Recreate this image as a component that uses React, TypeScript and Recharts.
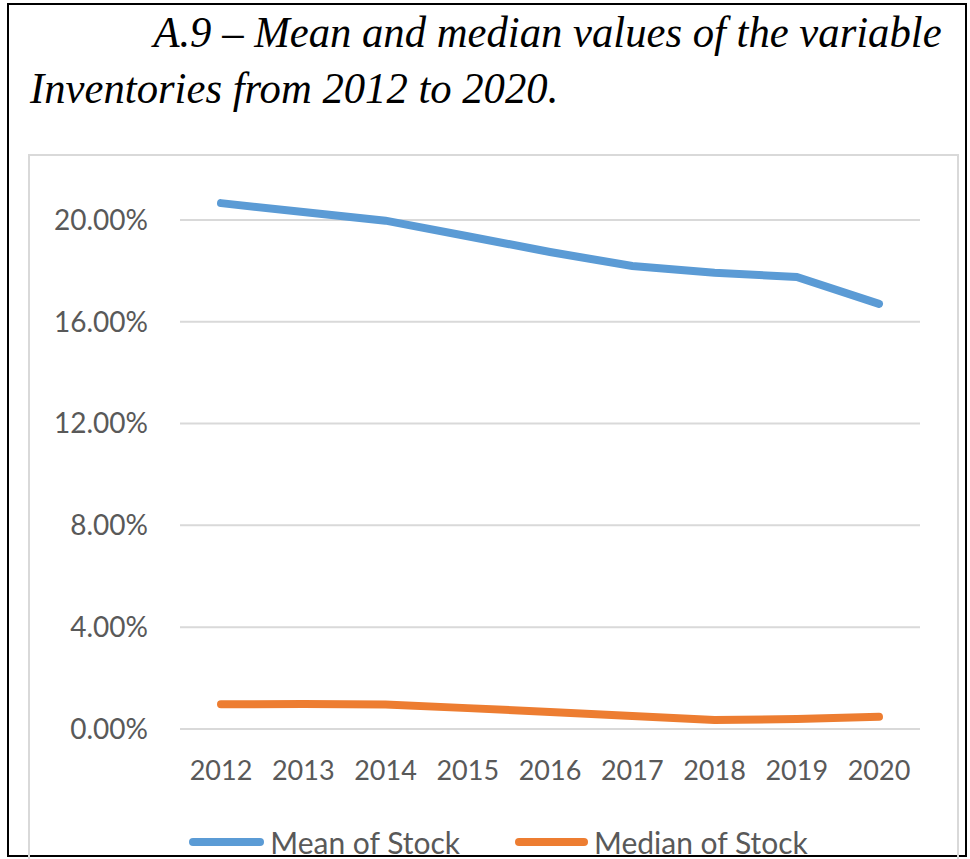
import React from "react";
import {
  LineChart,
  Line,
  XAxis,
  YAxis,
  CartesianGrid,
  Legend,
} from "recharts";

const years = ["2012", "2013", "2014", "2015", "2016", "2017", "2018", "2019", "2020"];
const meanOfStock = [0.2066, 0.2031, 0.1997, 0.1936, 0.1874, 0.1819, 0.1792, 0.1776, 0.167];
const medianOfStock = [0.0097, 0.0098, 0.0096, 0.0082, 0.0067, 0.0051, 0.0035, 0.0039, 0.0048];
const yTicks = [0, 0.04, 0.08, 0.12, 0.16, 0.2];

const data = years.map((year, i) => ({
  year,
  mean: meanOfStock[i],
  median: medianOfStock[i],
}));

const BLUE = "#5B9BD5";
const ORANGE = "#ED7D31";
const TEXT = "#595959";

const LegendContent = () => (
  <div
    style={{
      height: 40,
      paddingLeft: 48,
      display: "flex",
      alignItems: "center",
      justifyContent: "center",
      fontFamily: "Lato",
      fontSize: 30,
      color: TEXT,
    }}
  >
    <span style={{ display: "flex", alignItems: "center", marginRight: 55 }}>
      <span style={{ width: 75, height: 8, borderRadius: 4, background: BLUE, marginRight: 6 }} />
      Mean of Stock
    </span>
    <span style={{ display: "flex", alignItems: "center" }}>
      <span style={{ width: 73, height: 8, borderRadius: 4, background: ORANGE, marginRight: 6 }} />
      Median of Stock
    </span>
  </div>
);

const titleStyle: React.CSSProperties = {
  position: "absolute",
  fontFamily: "'Liberation Serif', serif",
  fontStyle: "italic",
  fontSize: 44,
  lineHeight: "44px",
  whiteSpace: "nowrap",
  color: "#000",
  transform: "scaleX(0.97)",
};

export default function App() {
  return (
    <div
      style={{
        position: "absolute",
        left: 0,
        top: 0,
        width: 970,
        height: 859,
        overflow: "hidden",
        background: "#fff",
      }}
    >
      <div
        style={{
          position: "absolute",
          left: 7,
          top: 3,
          width: 960,
          height: 854,
          border: "2px solid #000",
          boxSizing: "border-box",
        }}
      />
      <div style={{ ...titleStyle, right: 28, top: 11, transformOrigin: "right center" }}>
        A.9 – Mean and median values of the variable
      </div>
      <div style={{ ...titleStyle, left: 30, top: 67, transformOrigin: "left center" }}>
        Inventories from 2012 to 2020.
      </div>
      <div
        style={{
          position: "absolute",
          left: 28,
          top: 154,
          width: 931,
          height: 760,
          border: "2px solid #d9d9d9",
          boxSizing: "border-box",
        }}
      />
      <div style={{ position: "absolute", left: 29, top: 155 }}>
        <LineChart
          width={930}
          height={707}
          data={data}
          margin={{ top: 14, right: 39, bottom: 0, left: 0 }}
          style={{ fontFamily: "Lato" }}
        >
          <CartesianGrid
            vertical={false}
            horizontalValues={yTicks}
            stroke="#d9d9d9"
            strokeWidth={2}
          />
          <XAxis
            dataKey="year"
            tickLine={false}
            axisLine={false}
            tickMargin={26}
            interval={0}
            height={93}
            padding={{ left: 41, right: 41 }}
            tick={{ fontSize: 27, fill: TEXT }}
          />
          <YAxis
            domain={[0, 0.22]}
            ticks={yTicks}
            tickFormatter={(v: number) => (v * 100).toFixed(2) + "%"}
            tickLine={false}
            axisLine={false}
            tickMargin={26}
            width={151}
            tick={{ fontSize: 28, fill: TEXT }}
          />
          <Legend verticalAlign="bottom" content={<LegendContent />} />
          <Line
            type="linear"
            dataKey="mean"
            name="Mean of Stock"
            stroke={BLUE}
            strokeWidth={8}
            strokeLinecap="round"
            dot={false}
            isAnimationActive={false}
          />
          <Line
            type="linear"
            dataKey="median"
            name="Median of Stock"
            stroke={ORANGE}
            strokeWidth={8}
            strokeLinecap="round"
            dot={false}
            isAnimationActive={false}
          />
        </LineChart>
      </div>
    </div>
  );
}
